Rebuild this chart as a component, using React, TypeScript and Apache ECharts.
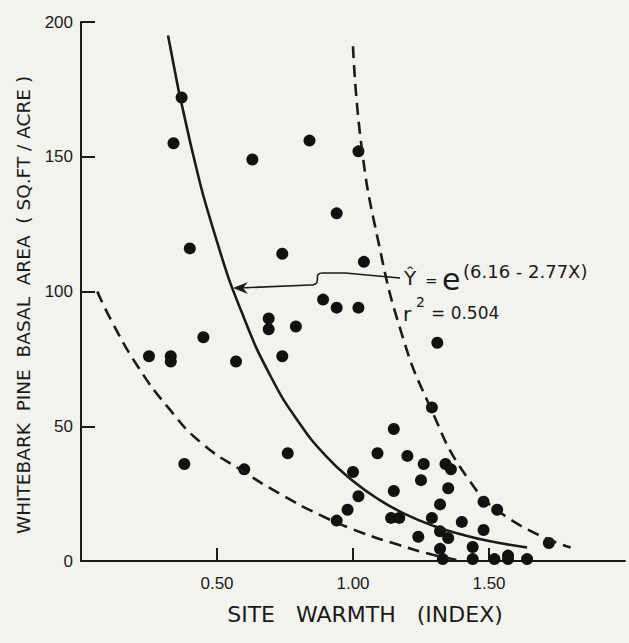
import React, { useEffect, useRef } from "react";
import * as echarts from "echarts";

// Observed plots (site warmth index, basal area sq.ft/acre)
const pointX = [0.37, 0.34, 0.63, 0.84, 1.02, 0.94, 0.40, 0.74, 1.04, 0.89, 0.94, 1.02, 0.69, 0.69, 0.79, 0.45, 0.25, 0.33, 0.33, 0.57, 0.74, 1.31, 1.29, 1.15, 0.76, 0.38, 0.60, 1.09, 1.20, 1.26, 1.34, 1.36, 1.25, 1.00, 1.35, 1.15, 1.02, 1.32, 1.48, 1.53, 0.98, 0.94, 1.14, 1.17, 1.29, 1.40, 1.48, 1.24, 1.32, 1.35, 1.72, 1.44, 1.32, 1.33, 1.44, 1.52, 1.57, 1.57, 1.64];
const pointY = [172, 155, 149, 156, 152, 129, 116, 114, 111, 97, 94, 94, 90, 86, 87, 83, 76, 76, 74, 74, 76, 81, 57, 49, 40, 36, 34, 40, 39, 36, 36, 34, 30, 33, 27, 26, 24, 21, 22, 19, 19, 15, 16, 16, 16, 14.5, 11.5, 9, 11, 8.5, 6.7, 5.2, 4.5, 0.7, 0.7, 0.7, 2, 0.7, 0.7];

// Fitted curve (solid)
const fitX = [0.32, 0.40, 0.50, 0.60, 0.70, 0.80, 0.90, 1.00, 1.10, 1.20, 1.30, 1.40, 1.50, 1.64];
const fitY = [195, 156, 118.5, 90, 68, 51.6, 39, 29.7, 22.5, 17, 12.9, 9.8, 7.4, 5];

// Upper dashed bound
const upperX = [1.00, 1.03, 1.09, 1.18, 1.28, 1.42, 1.57, 1.80];
const upperY = [191, 155, 120, 84, 58, 31, 16, 5];

// Lower dashed bound
const lowerX = [0.06, 0.11, 0.21, 0.32, 0.44, 0.60, 0.73, 0.88, 1.03, 1.17, 1.29, 1.38];
const lowerY = [100, 89.5, 72, 57, 44, 33, 25, 17, 10.6, 5.9, 2.4, 0.4];

const xTickValues = [0.5, 1.0, 1.5];
const yLabelValues = [0, 50, 100, 150, 200];
const yTickValues = [50, 100, 150, 200];

const xTitle = "SITE   WARMTH   (INDEX)";
const yTitle = "WHITEBARK  PINE  BASAL  AREA  ( SQ.FT / ACRE )";

const INK = "#1a1a1a";
const FONT = "DejaVu Sans";
const TICKFONT = "Liberation Sans";

export default function App() {
  const ref = useRef<HTMLDivElement>(null);
  useEffect(() => {
    if (!ref.current) return;
    const chart = echarts.init(ref.current, null, { renderer: "svg" });
    const zip = (xs: number[], ys: number[]) => xs.map((x, i) => [x, ys[i]]);
    chart.setOption({
      animation: false,
      backgroundColor: "#f3f3ee",
      grid: { left: 81, top: 22, width: 544, height: 539 },
      xAxis: {
        type: "value",
        min: 0,
        max: 2,
        interval: 0.5,
        splitLine: { show: false },
        axisLine: { show: true, lineStyle: { color: INK, width: 2 } },
        axisTick: { show: true, inside: true, length: 13, customValues: xTickValues, lineStyle: { color: INK, width: 2 } },
        axisLabel: {
          customValues: xTickValues,
          formatter: (v: number) => v.toFixed(2),
          color: INK,
          fontFamily: TICKFONT,
          fontSize: 17,
          margin: 14,
        },
      },
      yAxis: {
        type: "value",
        min: 0,
        max: 200,
        interval: 50,
        splitLine: { show: false },
        axisLine: { show: true, lineStyle: { color: INK, width: 2 } },
        axisTick: { show: true, inside: true, length: 14, customValues: yTickValues, lineStyle: { color: INK, width: 2 } },
        axisLabel: {
          customValues: yLabelValues,
          color: INK,
          fontFamily: TICKFONT,
          fontSize: 17,
          margin: 8,
        },
      },
      graphic: [
        {
          type: "text",
          x: 365,
          y: 614,
          style: { text: xTitle, fill: INK, font: `22px ${FONT}`, align: "center", verticalAlign: "middle" },
        },
        {
          type: "text",
          x: 23,
          y: 305,
          rotation: Math.PI / 2,
          style: { text: yTitle, fill: INK, font: `18.5px ${FONT}`, align: "center", verticalAlign: "middle" },
        },
        { type: "text", x: 404, y: 278, style: { text: "Ŷ", fill: INK, font: `20px ${FONT}`, verticalAlign: "middle" } },
        { type: "text", x: 425, y: 281, style: { text: "=", fill: INK, font: `15px ${FONT}`, verticalAlign: "middle" } },
        { type: "text", x: 442, y: 279, style: { text: "e", fill: INK, font: `30px ${FONT}`, verticalAlign: "middle" } },
        { type: "text", x: 463, y: 271, style: { text: "(6.16 - 2.77X)", fill: INK, font: `18px ${FONT}`, verticalAlign: "middle" } },
        { type: "text", x: 403, y: 314, style: { text: "r", fill: INK, font: `20px ${FONT}`, verticalAlign: "middle" } },
        { type: "text", x: 416, y: 302, style: { text: "2", fill: INK, font: `14px ${FONT}`, verticalAlign: "middle" } },
        { type: "text", x: 431, y: 313, style: { text: "= 0.504", fill: INK, font: `17px ${FONT}`, verticalAlign: "middle" } },
        {
          type: "polyline",
          shape: { points: [[400, 278], [345, 273], [324, 273]] },
          style: { stroke: INK, lineWidth: 1.6, fill: "none" },
        },
        {
          type: "bezierCurve",
          shape: { x1: 324, y1: 273, cpx1: 310, cpy1: 272, cpx2: 325, cpy2: 285, x2: 310, y2: 285 },
          style: { stroke: INK, lineWidth: 1.6, fill: "none" },
        },
        {
          type: "polyline",
          shape: { points: [[310, 285], [240, 288]] },
          style: { stroke: INK, lineWidth: 1.6, fill: "none" },
        },
        {
          type: "polygon",
          shape: { points: [[233, 288], [248, 282], [243, 288], [248, 294]] },
          style: { fill: INK },
        },
      ],
      series: [
        {
          type: "line",
          data: zip(lowerX, lowerY),
          smooth: true,
          showSymbol: false,
          lineStyle: { color: INK, width: 2.6, type: [12, 7] },
        },
        {
          type: "line",
          data: zip(upperX, upperY),
          smooth: true,
          showSymbol: false,
          lineStyle: { color: INK, width: 2.6, type: [12, 7] },
        },
        {
          type: "line",
          data: zip(fitX, fitY),
          smooth: true,
          showSymbol: false,
          lineStyle: { color: INK, width: 2.6 },
        },
        {
          type: "scatter",
          data: zip(pointX, pointY),
          symbol: "circle",
          symbolSize: 12,
          itemStyle: { color: "#111111", opacity: 1 },
        },
      ],
    });
    return () => chart.dispose();
  }, []);
  return (
    <div
      ref={ref}
      style={{ position: "fixed", left: 0, top: 0, width: 629, height: 643 }}
    />
  );
}
